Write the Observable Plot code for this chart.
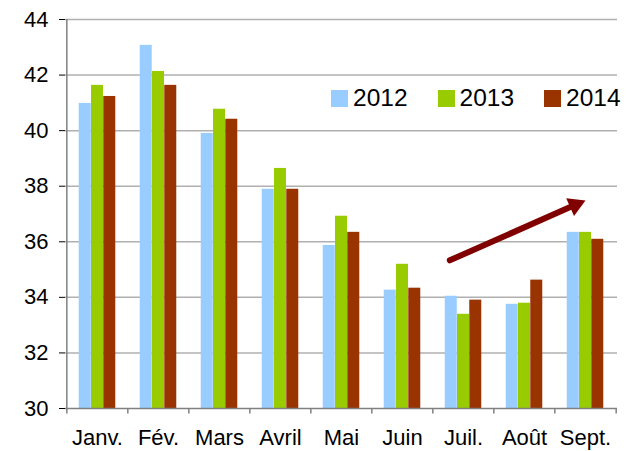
<!DOCTYPE html>
<html>
<head>
<meta charset="utf-8">
<script src="https://cdn.jsdelivr.net/npm/d3@7"></script>
<script src="https://cdn.jsdelivr.net/npm/@observablehq/plot@0.6"></script>
<style>
  html, body { margin: 0; padding: 0; background: #fff; }
  #wrap { position: relative; width: 632px; height: 451px; font-family: "Liberation Sans", Arial, sans-serif; }
  #legend { position: absolute; left: 331px; top: 84px; display: flex; align-items: center; font-size: 24.5px; color: #000; }
  .item { display: flex; align-items: center; }
  .sw { width: 17px; height: 17px; margin-right: 5px; }
</style>
</head>
<body>
<div id="wrap"><div id="legend"></div></div>
<script>
// ---- data ----
const months = ["Janv.", "Fév.", "Mars", "Avril", "Mai", "Juin", "Juil.", "Août", "Sept."];
const years = ["2012", "2013", "2014"];
const v2012 = [40.98, 43.07, 39.90, 37.89, 35.87, 34.26, 34.04, 33.75, 36.34];
const v2013 = [41.63, 42.13, 40.77, 38.64, 36.92, 35.19, 33.39, 33.79, 36.34];
const v2014 = [41.23, 41.63, 40.41, 37.89, 36.34, 34.33, 33.90, 34.62, 36.09];
const yTicks = [30, 32, 34, 36, 38, 40, 42, 44];
const colors = ["#99ccff", "#99cc00", "#993300"];
// trend arrow (from Juil. to Sept.)
const arrowFrom = {month: "Juil.", value: 35.55};
const arrowTo = {month: "Sept.", value: 37.49};

// ---- layout ----
const W = 632, H = 451, mL = 65, mR = 15, mT = 19, mB = 43;
const step = (W - mL - mR) / months.length;
const yDomain = [yTicks[0], yTicks[yTicks.length - 1]];
const series = [v2012, v2013, v2014];
const rows = months.map((m, i) => ({month: m, v: series.map(s => s[i])}));
const barW = step * 0.2;

// arrow direction in pixels (for the filled head)
const pxPerUnit = (H - mT - mB) / (yDomain[1] - yDomain[0]);
const adx = 2 * step, ady = -(arrowTo.value - arrowFrom.value) * pxPerUnit;
const alen = Math.hypot(adx, ady);
const ux = adx / alen, uy = ady / alen;
const headR = 7.2;
const headSide = Math.sqrt(Math.PI * headR * headR / (Math.sqrt(3) / 4));
const headH = headSide * Math.sqrt(3) / 2;
const centroidBack = headH * 2 / 3;
const rotateDeg = Math.atan2(ux, -uy) * 180 / Math.PI;

const bars = series.map((s, k) =>
  Plot.barY(rows, {
    x: "month",
    y1: () => yDomain[0],
    y2: d => d.v[k],
    fill: colors[k],
    dx: (k - 1) * barW
  })
);

const chart = Plot.plot({
  width: W, height: H,
  marginLeft: mL, marginRight: mR, marginTop: mT, marginBottom: mB,
  style: {fontFamily: "'Liberation Sans', Arial, sans-serif", fontSize: "22px", color: "#000", background: "#fff"},
  x: {domain: months, paddingInner: 0.8, paddingOuter: 0.4, tickSize: 0, tickPadding: 21, label: null},
  y: {domain: yDomain, ticks: yTicks, tickSize: 6, tickPadding: 11, label: null},
  marks: [
    Plot.ruleY(yTicks.slice(1), {stroke: "#b0b0b0", strokeWidth: 1.5}),
    ...bars,
    Plot.ruleY([yDomain[0]], {stroke: "#808080", strokeWidth: 1.5}),
    Plot.ruleX([months[0]], {stroke: "#808080", strokeWidth: 1.5, dx: -step / 2}),
    Plot.ruleX(months, {x: d => d, y1: yDomain[0], y2: yDomain[0] - 0.2, stroke: "#808080", strokeWidth: 1.5, dx: -step / 2}),
    Plot.ruleX([months[months.length - 1]], {x: d => d, y1: yDomain[0], y2: yDomain[0] - 0.2, stroke: "#808080", strokeWidth: 1.5, dx: step / 2}),
    Plot.arrow([{}], {
      x1: () => arrowFrom.month, y1: () => arrowFrom.value,
      x2: () => arrowTo.month, y2: () => arrowTo.value,
      stroke: "#800000", strokeWidth: 6, headLength: 0,
      insetStart: -15, insetEnd: headH - 2
    }),
    Plot.dot([{}], {
      x: () => arrowTo.month, y: () => arrowTo.value,
      symbol: "triangle", r: headR, fill: "#800000", stroke: "none",
      rotate: rotateDeg,
      dx: -ux * centroidBack, dy: -uy * centroidBack
    })
  ]
});
document.getElementById("wrap").prepend(chart);

// legend
const leg = document.getElementById("legend");
years.forEach((y, k) => {
  const it = document.createElement("div");
  it.className = "item";
  it.style.marginRight = k < years.length - 1 ? "30px" : "0";
  const sw = document.createElement("div");
  sw.className = "sw";
  sw.style.background = colors[k];
  const t = document.createElement("span");
  t.textContent = y;
  it.append(sw, t);
  leg.append(it);
});
</script>
</body>
</html>
